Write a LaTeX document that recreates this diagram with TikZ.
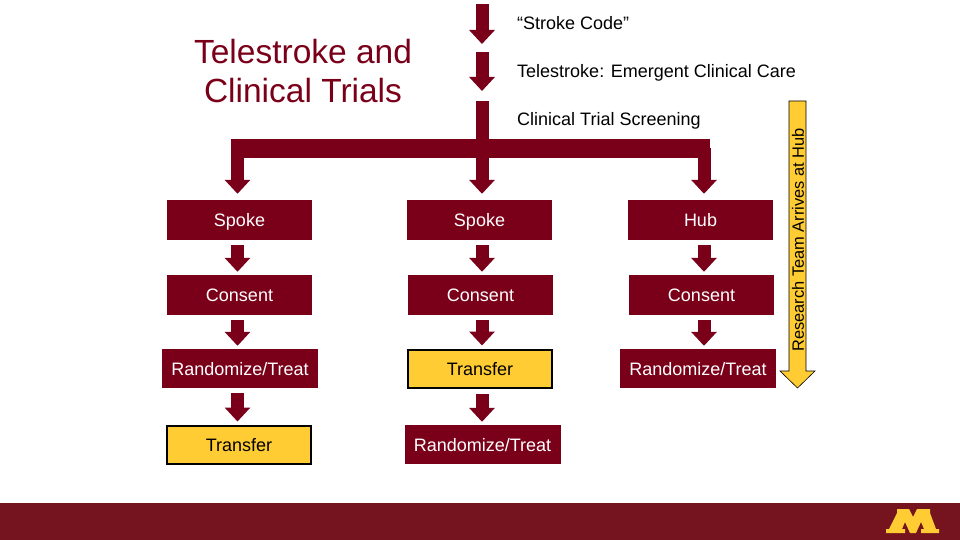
\documentclass[tikz,border=0pt]{standalone}
\usepackage{fontspec}
\setmainfont{Liberation Sans}
\usepackage{xcolor}
\usetikzlibrary{arrows.meta, positioning, calc}
\definecolor{cMaroon}{RGB}{122,0,25}
\definecolor{cGold}{RGB}{255,204,51}
\definecolor{cFooter}{RGB}{117,20,30}
\tikzset{
	stepbox/.style ={rectangle, minimum width=145pt, minimum height=40pt, inner sep=0pt, align=center, fill=cMaroon, text=white, text height=14pt, text depth=1pt, font=\fontsize{18}{21}\selectfont},
	widebox/.style ={stepbox, minimum width=156pt, minimum height=39pt},
	goldbox/.style ={stepbox, minimum width=144pt, minimum height=38pt, fill=cGold, text=black, draw=black, line width=2pt},
	steplabel/.style={anchor=west, inner sep=0pt, text height=14pt, text depth=1pt, font=\fontsize{18}{21}\selectfont},
	blockarrow/.style={-{Triangle[length=14pt, width=25pt, sep=0pt]}, line width=13pt, draw=cMaroon},
}

\begin{document}
\begin{tikzpicture}[x=1pt, y=-1pt]
	\useasboundingbox (0,0) rectangle (960,540);
	% footer band and logo
	\fill[cFooter] (0,503) rectangle (960,540);
	\fill[cGold] (897,509) -- (909,509) -- (913,517) -- (917,509) -- (930,509) -- (930,513) -- (936,529) -- (939,529) -- (939,533) -- (921,533) -- (921,529) -- (924,529) -- (921,522) -- (916,533) -- (910,533) -- (905,522) -- (902,529) -- (905,529) -- (905,533) -- (886,533) -- (886,529) -- (889,529) -- (897,513) -- cycle;
	% title
	\node[align=center, text=cMaroon, font=\fontsize{33.5}{39}\selectfont] (title) at (303,71) {Telestroke and\\Clinical Trials};
	% boxes
	\node[stepbox] (spokeA) at (239.5,220) {Spoke};
	\node[stepbox] (spokeB) at (479.5,220) {Spoke};
	\node[stepbox] (hubC) at (700.5,220) {Hub};
	\node[stepbox] (consentA) at (239.5,295) {Consent};
	\node[stepbox] (consentB) at (480.5,295) {Consent};
	\node[stepbox] (consentC) at (701.5,295) {Consent};
	\node[widebox] (randA) at (240,368.5) {Randomize/Treat};
	\node[goldbox] (transferB) at (480,368.5) {Transfer};
	\node[widebox] (randC) at (698,368.5) {Randomize/Treat};
	\node[goldbox] (transferA) at (239,444.5) {Transfer};
	\node[widebox] (randB) at (482.5,444.5) {Randomize/Treat};
	% labels beside the top arrows
	\node[steplabel] (strokecode) at (517,23) {“Stroke Code”};
	\node[steplabel] (telestroke) at (517,71) {Telestroke: Emergent Clinical Care};
	\node[steplabel] (screening) at (517,119) {Clinical Trial Screening};
	% columns of arrows
	\coordinate (colA) at (237.5,0);
	\coordinate (colB) at (482,0);
	\coordinate (colC) at (704,0);
	\coordinate (topA) at (482,4);
	\coordinate (topB) at (482,44);
	\coordinate (midA) at (482,52);
	\coordinate (midB) at (482,91);
	\coordinate (trunk) at (482,101);
	\coordinate (barL) at (231,148.5);
	\coordinate (barR) at (710,148.5);
	\draw[blockarrow] (topA) -- (topB);
	\draw[blockarrow] (midA) -- (midB);
	\draw[line width=19pt, draw=cMaroon] (barL) -- (barR);
	\draw[blockarrow, shorten >=6pt] (trunk) -- (colB |- spokeB.north);
	\draw[blockarrow, shorten >=6pt] (colA |- barL) -- (colA |- spokeA.north);
	\draw[blockarrow, shorten >=6pt] (colC |- barL) -- (colC |- hubC.north);
	\foreach \col/\a/\b in {colA/spokeA/consentA, colA/consentA/randA, colA/randA/transferA,
		colB/spokeB/consentB, colB/consentB/transferB, colB/transferB/randB,
		colC/hubC/consentC, colC/consentC/randC} {
		\draw[blockarrow, shorten <=5pt, shorten >=3pt] (\col |- \a.south) -- (\col |- \b.north);
	}
	% research team arrow
	\draw[draw=black, fill=cGold, line width=0.6pt] (789,101) -- (806,101) -- (806,371) -- (815,371) -- (797.5,388) -- (780,371) -- (789,371) -- cycle;
	\node[rotate=90, inner sep=0pt, font=\fontsize{16.4}{19}\selectfont] (research) at (798,240) {Research Team Arrives at Hub};
\end{tikzpicture}
\end{document}
